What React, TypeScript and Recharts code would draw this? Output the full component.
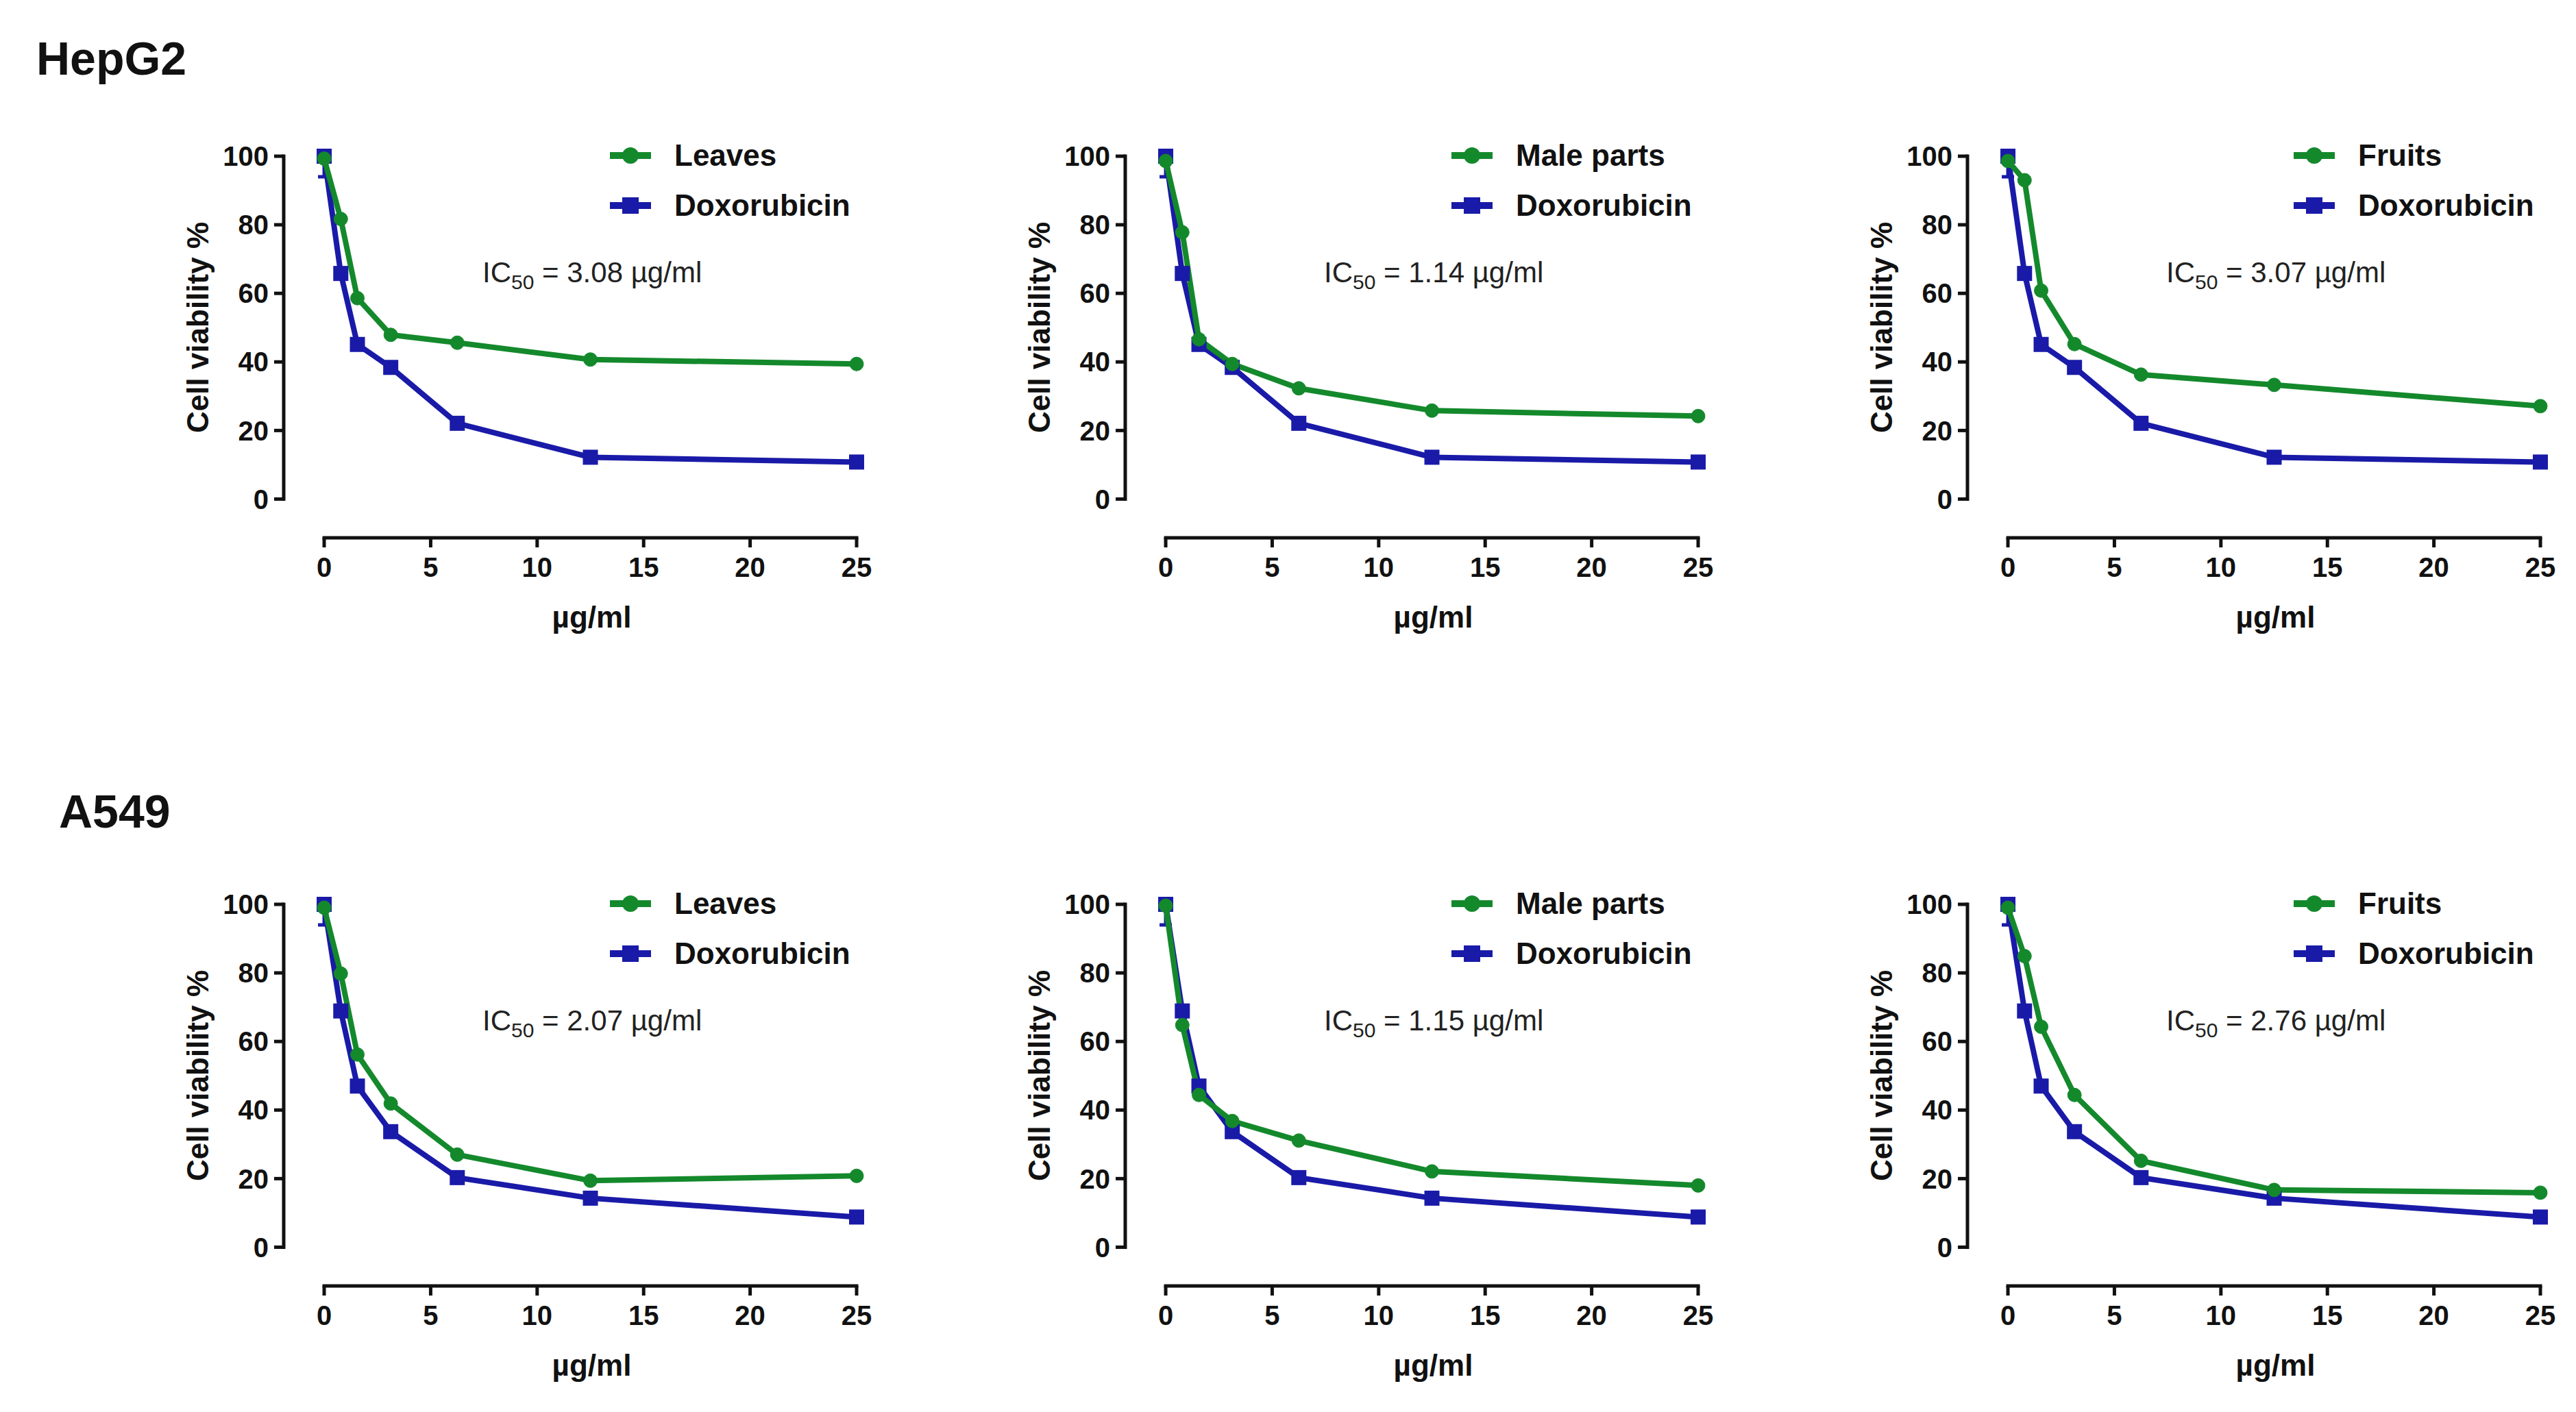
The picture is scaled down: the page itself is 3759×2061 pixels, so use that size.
import React from "react";
import { LineChart, Line, XAxis, YAxis, ReferenceLine, ErrorBar, Legend } from "recharts";

const FONT = '"Liberation Sans", Arial, Helvetica, sans-serif';
const GREEN = "#14892c";
const BLUE = "#1a1aa8";
const INK = "#111111";

// doses (µg/ml) shared by every panel
const DOSES = [0, 0.78, 1.56, 3.125, 6.25, 12.5, 25];
const X_TICKS = [0, 5, 10, 15, 20, 25];
const Y_TICKS = [0, 20, 40, 60, 80, 100];

// HepG2 viability %
const HEPG2_LEAVES = [99.3, 81.7, 58.6, 47.9, 45.6, 40.7, 39.4];
const HEPG2_MALE = [98.6, 77.8, 46.6, 39.4, 32.3, 25.8, 24.2];
const HEPG2_FRUITS = [98.6, 93.0, 60.8, 45.2, 36.3, 33.3, 27.1];
const HEPG2_DOX = [100, 65.8, 45.1, 38.4, 22.1, 12.2, 10.8];
const HEPG2_IC50 = ["3.08", "1.14", "3.07"];

// A549 viability %
const A549_LEAVES = [99.0, 79.8, 56.2, 41.9, 27.0, 19.4, 20.8];
const A549_MALE = [99.6, 64.8, 44.4, 36.8, 31.1, 22.1, 18.0];
const A549_FRUITS = [99.0, 84.9, 64.3, 44.4, 25.2, 16.7, 15.9];
const A549_DOX = [100, 68.9, 47.0, 33.7, 20.3, 14.3, 8.8];
const A549_IC50 = ["2.07", "1.15", "2.76"];

// only the untreated doxorubicin point shows a (lower) error bar
const DOX_ERR_LOW = [6, 0, 0, 0, 0, 0, 0];

const EXTRACTS = ["Leaves", "Male parts", "Fruits"];

// panel geometry
const PLOT_W = 836;
const PLOT_H = 557;
const ML = 64;
const YW = 150;
const MT = 80;
const XH = 160;
const MR = 60;
const MB = 10;
const CHART_W = ML + YW + PLOT_W + MR;
const CHART_H = MT + PLOT_H + XH + MB;
const X_MIN = -1.9;
const Y_MIN = -11.3;
const PANEL_LEFTS = [200, 1428, 2657];
const ROW_TOPS = [148, 1240];

const SQ = 22;

const SquareDot = (props: any) => {
  const { cx, cy, index } = props;
  if (cx == null || cy == null) return null;
  return <rect key={`sq-${index}`} x={cx - SQ / 2} y={cy - SQ / 2} width={SQ} height={SQ} fill={BLUE} />;
};

const YTitle = () => {
  const x = ML + 24;
  const y = MT + 250;
  return (
    <text
      x={x}
      y={y}
      transform={`rotate(-90 ${x} ${y})`}
      textAnchor="middle"
      dominantBaseline="central"
      style={{ fontFamily: FONT, fontSize: 44, fontWeight: 700, fill: INK }}
    >
      Cell viability %
    </text>
  );
};

const XTitle = () => {
  const x = ML + YW + ((12.5 - X_MIN) / (25 - X_MIN)) * PLOT_W + 2;
  const y = MT + PLOT_H + 115;
  return (
    <text
      x={x}
      y={y}
      textAnchor="middle"
      dominantBaseline="central"
      style={{ fontFamily: FONT, fontSize: 44, fontWeight: 700, fill: INK }}
    >
      µg/ml
    </text>
  );
};

const LegendBox = ({ name }: { name: string }) => {
  const items = [
    { label: name, color: GREEN, square: false },
    { label: "Doxorubicin", color: BLUE, square: true },
  ];
  return (
    <div style={{ fontFamily: FONT, fontSize: 44, fontWeight: 700, color: INK, lineHeight: 1 }}>
      {items.map((it) => (
        <div key={it.label} style={{ height: 73, display: "flex", alignItems: "center", whiteSpace: "nowrap" }}>
          <svg width={60} height={30}>
            <line x1={0} x2={60} y1={15} y2={15} stroke={it.color} strokeWidth={10} />
            {it.square ? (
              <rect x={18} y={3} width={24} height={24} fill={it.color} />
            ) : (
              <circle cx={30} cy={15} r={12} fill={it.color} />
            )}
          </svg>
          <span style={{ marginLeft: 34 }}>{it.label}</span>
        </div>
      ))}
    </div>
  );
};

const tickStyle = { fontFamily: FONT, fontSize: 40, fontWeight: 700, fill: INK };

type PanelProps = {
  name: string;
  values: number[];
  dox: number[];
  ic50: string;
  left: number;
  top: number;
};

const Panel = ({ name, values, dox, ic50, left, top }: PanelProps) => {
  const rows = DOSES.map((x, i) => ({
    x,
    extract: values[i],
    dox: dox[i],
    doxErr: DOX_ERR_LOW[i] > 0 ? [DOX_ERR_LOW[i], 0] : null,
  }));

  return (
    <div style={{ position: "absolute", left, top, width: CHART_W, height: CHART_H }}>
      <LineChart
        width={CHART_W}
        height={CHART_H}
        data={rows}
        margin={{ top: MT, right: MR, bottom: MB, left: ML }}
      >
        <XAxis
          dataKey="x"
          type="number"
          domain={[X_MIN, 25]}
          ticks={X_TICKS}
          height={XH}
          axisLine={false}
          tickLine={{ stroke: INK, strokeWidth: 5 }}
          tickSize={14}
          tickMargin={15}
          tick={tickStyle}
          label={<XTitle />}
        />
        <YAxis
          type="number"
          domain={[Y_MIN, 100]}
          ticks={Y_TICKS}
          width={YW}
          axisLine={false}
          tickLine={{ stroke: INK, strokeWidth: 5 }}
          tickSize={14}
          tickMargin={8}
          tick={tickStyle}
          label={<YTitle />}
        />
        <ReferenceLine
          segment={[{ x: X_MIN, y: 0 }, { x: X_MIN, y: 100 }]}
          stroke={INK}
          strokeWidth={5}
          strokeLinecap="square"
          ifOverflow="visible"
        />
        <ReferenceLine
          segment={[{ x: 0, y: Y_MIN }, { x: 25, y: Y_MIN }]}
          stroke={INK}
          strokeWidth={5}
          strokeLinecap="square"
          ifOverflow="visible"
        />
        <Line
          type="linear"
          dataKey="dox"
          name="Doxorubicin"
          stroke={BLUE}
          strokeWidth={8}
          dot={<SquareDot />}
          activeDot={false}
          isAnimationActive={false}
        >
          <ErrorBar dataKey="doxErr" direction="y" width={9} strokeWidth={5} stroke={BLUE} />
        </Line>
        <Line
          type="linear"
          dataKey="extract"
          name={name}
          stroke={GREEN}
          strokeWidth={8}
          dot={{ r: 10, fill: GREEN, stroke: GREEN, strokeWidth: 1 }}
          activeDot={false}
          isAnimationActive={false}
        />
        <Legend
          layout="vertical"
          align="center"
          verticalAlign="middle"
          wrapperStyle={{ left: ML + YW + 476, top: 42, width: 600 }}
          content={() => <LegendBox name={name} />}
        />
      </LineChart>
      <div
        style={{
          position: "absolute",
          left: 504,
          top: 229,
          fontFamily: FONT,
          fontSize: 42,
          lineHeight: 1,
          color: "#222",
          whiteSpace: "nowrap",
        }}
      >
        IC<span style={{ fontSize: 30, verticalAlign: -10 }}>50</span> = {ic50} µg/ml
      </div>
    </div>
  );
};

const titleStyle: React.CSSProperties = {
  position: "absolute",
  fontFamily: FONT,
  fontSize: 68,
  fontWeight: 700,
  lineHeight: 1,
  color: INK,
};

export default function App() {
  const hep = [HEPG2_LEAVES, HEPG2_MALE, HEPG2_FRUITS];
  const a549 = [A549_LEAVES, A549_MALE, A549_FRUITS];
  return (
    <div
      style={{
        position: "absolute",
        left: 0,
        top: 0,
        width: 3759,
        height: 2061,
        background: "#fff",
        overflow: "hidden",
      }}
    >
      <div style={{ ...titleStyle, left: 53, top: 51 }}>HepG2</div>
      <div style={{ ...titleStyle, left: 86, top: 1150 }}>A549</div>
      {EXTRACTS.map((name, i) => (
        <Panel
          key={`hep-${name}`}
          name={name}
          values={hep[i]}
          dox={HEPG2_DOX}
          ic50={HEPG2_IC50[i]}
          left={PANEL_LEFTS[i]}
          top={ROW_TOPS[0]}
        />
      ))}
      {EXTRACTS.map((name, i) => (
        <Panel
          key={`a549-${name}`}
          name={name}
          values={a549[i]}
          dox={A549_DOX}
          ic50={A549_IC50[i]}
          left={PANEL_LEFTS[i]}
          top={ROW_TOPS[1]}
        />
      ))}
    </div>
  );
}
